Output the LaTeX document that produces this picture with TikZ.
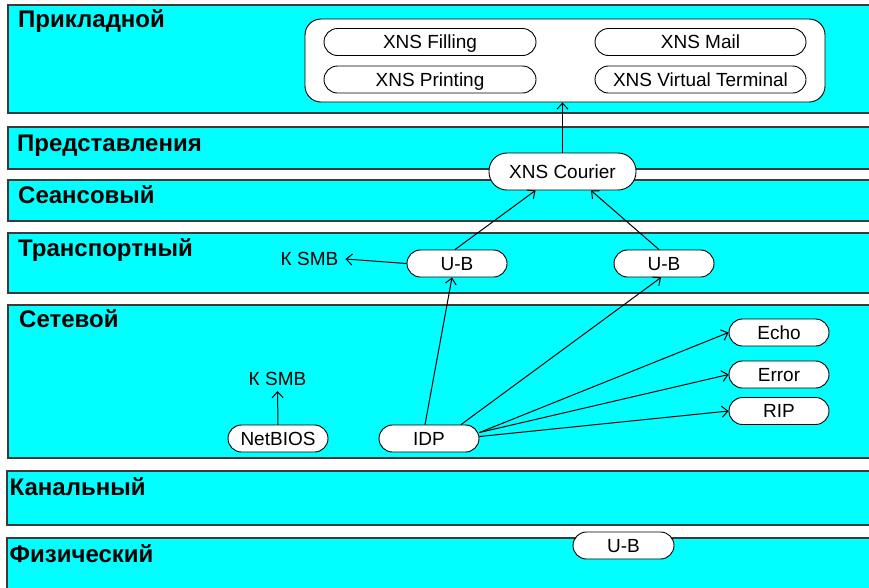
\documentclass[tikz,border=0pt]{standalone}
\usepackage{fontspec}
\setmainfont{Liberation Sans}
\usetikzlibrary{arrows.meta}
\definecolor{bandcyan}{HTML}{00FFFF}
\definecolor{bandedge}{HTML}{3A3A3A}
\tikzset{
  band/.style={draw=bandedge,line width=1.3pt,fill=bandcyan},
  layerlabel/.style={anchor=base west,inner sep=0pt,font=\bfseries\fontsize{24}{26}\selectfont},
  pill/.style={draw=black,fill=white,line width=0.9pt,rounded corners=13.5pt,minimum height=27pt,inner sep=0pt,text height=13.6pt,text depth=0pt,font=\fontsize{19}{21}\selectfont},
  plain/.style={inner sep=0pt,text height=13.6pt,text depth=0pt,font=\fontsize{19}{21}\selectfont},
  arr/.style={draw=black,line width=1pt,-{Straight Barb[length=6pt,width=11pt]}}
}
\begin{document}
\begin{tikzpicture}[x=1pt,y=-1pt]
\useasboundingbox (0,0) rectangle (869,587);
\clip (0,0) rectangle (869,587);
% bands
\draw[band] (8,5) rectangle (880,113);
\draw[band] (8,127) rectangle (880,169);
\draw[band] (8,180) rectangle (880,221);
\draw[band] (8,233) rectangle (880,293);
\draw[band] (8,305) rectangle (880,458);
\draw[band] (7,471) rectangle (880,525);
\draw[band] (7,538) rectangle (880,600);
% layer labels
\node[layerlabel] (l1) at (18,27.5) {Прикладной};
\node[layerlabel] (l2) at (17,151.5) {Представления};
\node[layerlabel] (l3) at (18,203) {Сеансовый};
\node[layerlabel] (l4) at (18,256.5) {Транспортный};
\node[layerlabel] (l5) at (19,327) {Сетевой};
\node[layerlabel] (l6) at (9.5,495) {Канальный};
\node[layerlabel] (l7) at (9.5,562) {Физический};
% application box
\node[draw=black,fill=white,line width=0.9pt,rounded corners=16pt,minimum width=520pt,minimum height=83pt,inner sep=0pt] (app) at (565,60.5) {};
\node[pill,minimum width=212pt] (fill) at (430,42) {XNS Filling};
\node[pill,minimum width=212pt] (print) at (430,79.5) {XNS Printing};
\node[pill,minimum width=211pt] (mail) at (700.5,42) {XNS Mail};
\node[pill,minimum width=211pt] (vt) at (700.5,79.5) {XNS Virtual Terminal};
% courier
\node[pill,minimum width=147pt,minimum height=37pt,rounded corners=18pt] (courier) at (562.5,171.5) {XNS Courier};
% transport
\node[pill,minimum width=100pt] (ub1) at (457,263.5) {U-B};
\node[pill,minimum width=100pt] (ub2) at (664,263.5) {U-B};
\node[plain,inner xsep=7pt] (ksmb1) at (309.5,259) {К SMB};
% network
\node[pill,minimum width=100pt] (netbios) at (278,438.5) {NetBIOS};
\node[pill,minimum width=100pt] (idp) at (429,438.5) {IDP};
\node[plain,inner ysep=5pt] (ksmb2) at (277.5,379) {К SMB};
\node[pill,minimum width=100pt] (echo) at (779,332.5) {Echo};
\node[pill,minimum width=100pt] (error) at (779,374.5) {Error};
\node[pill,minimum width=100pt] (rip) at (779,411) {RIP};
% physical
\node[pill,minimum width=101pt] (ub3) at (623.5,545.5) {U-B};
% connectors
\draw[arr] (courier.north) -- (courier.north |- app.south);
\draw[arr] ([xshift=-2pt]ub1.north) -- ([xshift=-27pt]courier.south);
\draw[arr] ([xshift=-5pt]ub2.north) -- ([xshift=28.5pt]courier.south);
\draw[arr] (ub1.west) -- (ksmb1.east);
\draw[arr] ([xshift=-4pt]idp.north) -- ([xshift=-5pt]ub1.south);
\draw[arr] ([xshift=32pt]idp.north) -- ([xshift=-3pt]ub2.south);
\draw[arr] ([yshift=6pt]idp.east) -- (echo.west);
\draw[arr] ([yshift=6pt]idp.east) -- (error.west);
\draw[arr] ([yshift=2pt]idp.east) -- (rip.west);
\draw[arr] (netbios.north) -- (ksmb2.south);
\end{tikzpicture}
\end{document}
